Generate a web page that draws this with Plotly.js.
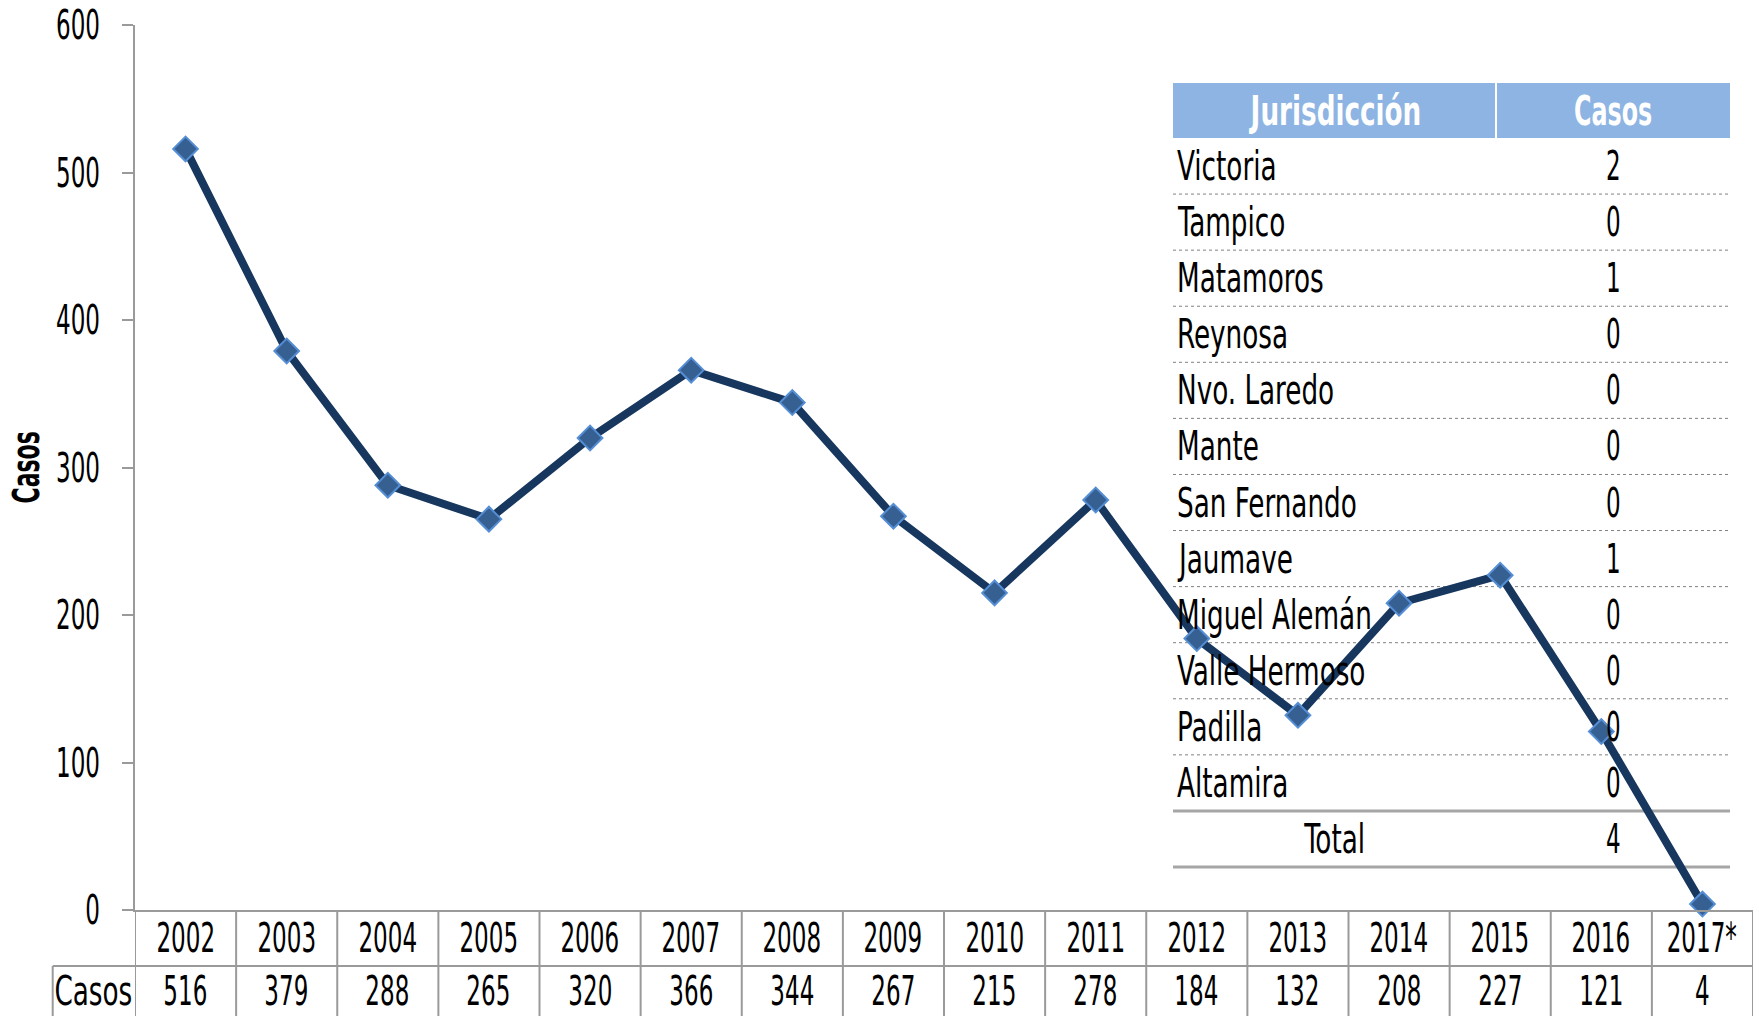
<!DOCTYPE html>
<html><head><meta charset="utf-8">
<script src="https://cdn.plot.ly/plotly-3.0.1.min.js"></script>
<style>html,body{margin:0;padding:0;background:#fff;overflow:hidden}</style>
</head><body><div id="chart" style="width:1759px;height:1016px"></div>
<script>
// ---- data ----
const years = ['2002','2003','2004','2005','2006','2007','2008','2009','2010','2011','2012','2013','2014','2015','2016','2017*'];
const casos = [516,379,288,265,320,366,344,267,215,278,184,132,208,227,121,4];
const rowLabel = 'Casos';
const yTitle = 'Casos';
const tableHeaders = ['Jurisdicción','Casos'];
const jurisdicciones = ['Victoria','Tampico','Matamoros','Reynosa','Nvo. Laredo','Mante','San Fernando','Jaumave','Miguel Alemán','Valle Hermoso','Padilla','Altamira'];
const casosJurisdiccion = [2,0,1,0,0,0,0,1,0,0,0,0];
const totalLabel = 'Total';
const totalCasos = 4;

// ---- layout helpers ----
const W = 1759, H = 1016, M = {l:135, r:6, t:25, b:106};
const PW = W - M.l - M.r, PH = H - M.t - M.b;
const px = X => (X - M.l) / PW;
const py = Y => (H - M.b - Y) / PH;
const FONT = '"DejaVu Sans Condensed", "Liberation Sans Narrow", "Arial Narrow", sans-serif';
const GRID = '#9a9a9a';
const FS = 40;

const shapes = [];
const annotations = [];

// bottom data table
for (let i = 0; i <= years.length; i++) {
  shapes.push({type:'line', xref:'x', yref:'paper', x0:i-0.5, x1:i-0.5, y0:0, y1:py(1022),
               line:{color:GRID, width:2}});
}
shapes.push({type:'line', xref:'paper', yref:'paper', x0:px(52.7), x1:1, y0:py(966), y1:py(966), line:{color:GRID, width:2}});
shapes.push({type:'line', xref:'paper', yref:'paper', x0:px(52.7), x1:px(52.7), y0:py(966), y1:py(1022), line:{color:GRID, width:2}});

years.forEach((yr, i) => {
  annotations.push({xref:'x', yref:'paper', x:i, y:0, yshift:-28, yanchor:'middle', xanchor:'center',
                    text:yr, showarrow:false, font:{family:FONT, size:FS, color:'#000'}});
  annotations.push({xref:'x', yref:'paper', x:i, y:0, yshift:-81, yanchor:'middle', xanchor:'center',
                    text:String(casos[i]), showarrow:false, font:{family:FONT, size:FS, color:'#000'}});
});
annotations.push({xref:'paper', yref:'paper', x:px(93), y:0, yshift:-81, yanchor:'middle', xanchor:'center',
                  text:rowLabel, showarrow:false, font:{family:FONT, size:FS, color:'#000'}});

// y title
annotations.push({xref:'paper', yref:'paper', x:px(26), y:py(468), textangle:-90, xanchor:'center', yanchor:'middle',
                  text:'<b>'+yTitle+'</b>', showarrow:false, font:{family:FONT, size:37, color:'#000'}});

// inset table
const TX0 = 1173, TX1 = 1730, TDIV = 1496, HY0 = 83, HY1 = 138, TEND = 867;
const nRows = jurisdicciones.length + 1;
const rowH = (TEND - HY1) / nRows;
const colName = 1334, colVal = 1613;
shapes.push({type:'rect', xref:'paper', yref:'paper', x0:px(TX0), x1:px(TX1), y0:py(HY0), y1:py(HY1),
             fillcolor:'#8DB4E2', line:{width:0}, layer:'below'});
shapes.push({type:'line', xref:'paper', yref:'paper', x0:px(TDIV), x1:px(TDIV), y0:py(HY0), y1:py(HY1),
             line:{color:'#ffffff', width:2}, layer:'below'});
annotations.push({xref:'paper', yref:'paper', x:px(colName), y:py((HY0+HY1)/2), xanchor:'center', yanchor:'middle',
                  text:'<b>'+tableHeaders[0]+'</b>', showarrow:false, font:{family:FONT, size:FS, color:'#ffffff'}});
annotations.push({xref:'paper', yref:'paper', x:px(colVal), y:py((HY0+HY1)/2), xanchor:'center', yanchor:'middle',
                  text:'<b>'+tableHeaders[1]+'</b>', showarrow:false, font:{family:FONT, size:FS, color:'#ffffff'}});
for (let k = 1; k <= nRows; k++) {
  const Y = HY1 + k*rowH;
  const solid = k >= nRows - 1;
  shapes.push({type:'line', xref:'paper', yref:'paper', x0:px(TX0), x1:px(TX1), y0:py(Y), y1:py(Y), layer:'below',
               line:solid ? {color:'#a6a6a6', width:3} : {color:'#808080', width:1, dash:'dot'}});
}
jurisdicciones.forEach((name, k) => {
  const Yc = HY1 + (k+0.5)*rowH;
  annotations.push({xref:'paper', yref:'paper', x:px(1175), y:py(Yc), xanchor:'left', yanchor:'middle', align:'left',
                    text:name, showarrow:false, font:{family:FONT, size:FS, color:'#000'}});
  annotations.push({xref:'paper', yref:'paper', x:px(colVal), y:py(Yc), xanchor:'center', yanchor:'middle',
                    text:String(casosJurisdiccion[k]), showarrow:false, font:{family:FONT, size:FS, color:'#000'}});
});
{
  const Yc = HY1 + (nRows-0.5)*rowH;
  annotations.push({xref:'paper', yref:'paper', x:px(colName), y:py(Yc), xanchor:'center', yanchor:'middle',
                    text:totalLabel, showarrow:false, font:{family:FONT, size:FS, color:'#000'}});
  annotations.push({xref:'paper', yref:'paper', x:px(colVal), y:py(Yc), xanchor:'center', yanchor:'middle',
                    text:String(totalCasos), showarrow:false, font:{family:FONT, size:FS, color:'#000'}});
}

const trace = {
  type:'scatter', mode:'lines+markers', x:years, y:casos, cliponaxis:false,
  line:{color:'#17375E', width:8},
  marker:{symbol:'diamond', size:19, color:'#366092', line:{color:'#558ED5', width:2}},
  hoverinfo:'x+y'
};

const layout = {
  width:W, height:H, margin:M, paper_bgcolor:'#fff', plot_bgcolor:'#fff', showlegend:false,
  font:{family:FONT, size:FS, color:'#000'},
  xaxis:{type:'category', range:[-0.5, years.length-0.5], showticklabels:false, ticks:'', showgrid:false,
         zeroline:false, showline:true, linecolor:GRID, linewidth:2},
  yaxis:{range:[0,600], tick0:0, dtick:100, ticks:'outside', ticklen:11, tickwidth:2, tickcolor:GRID,
         showline:true, linecolor:GRID, linewidth:2, showgrid:false, zeroline:false,
         tickfont:{family:FONT, size:FS, color:'#000'}, ticklabelstandoff:14},
  shapes:shapes, annotations:annotations
};

// condense glyphs horizontally (the reference uses a very narrow typeface)
function condense(gd) {
  gd.querySelectorAll('svg text').forEach(t => {
    const s = (t.textContent || '').trim();
    if (!s) return;
    let k = /^[0-9*]+$/.test(s) ? 0.64 : 0.73;
    if (s === yTitle && t.querySelector('tspan')) k = 0.66;
    const x = parseFloat(t.getAttribute('x')) || 0;
    const tr = t.getAttribute('transform') || '';
    t.setAttribute('transform', (tr + ' translate(' + x + ',0) scale(' + k + ',1) translate(' + (-x) + ',0)').trim());
  });
}
Plotly.newPlot('chart', [trace], layout, {displayModeBar:false, staticPlot:true}).then(condense);
</script>
</body></html>
